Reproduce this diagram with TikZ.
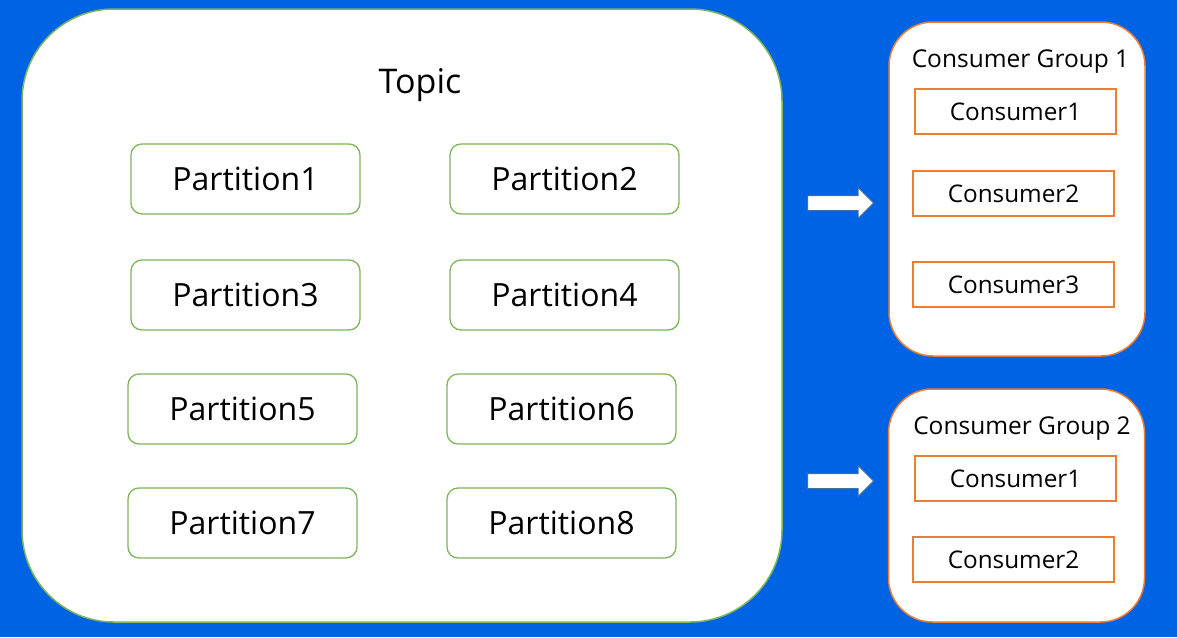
\documentclass[tikz,border=0pt]{standalone}
\usepackage{fontspec}
\setmainfont{Open Sans}
\usetikzlibrary{shapes.arrows,backgrounds}

\definecolor{bgblue}{HTML}{0063E4}
\definecolor{topicgreen}{HTML}{7DB55A}
\definecolor{grouporange}{HTML}{ED7D31}
\definecolor{arrowedge}{HTML}{41719C}

\begin{document}
\begin{tikzpicture}[x=1pt,y=-1pt,
    topicbox/.style={draw=topicgreen, line width=1.5pt, fill=white,
      rounded corners=92pt, minimum width=760pt, minimum height=613pt},
    partbox/.style={draw=topicgreen, line width=1.3pt, fill=white,
      rounded corners=11pt, minimum width=229pt, minimum height=70pt,
      font=\fontsize{32}{38}\selectfont},
    groupbox/.style={draw=grouporange, line width=1.5pt, fill=white,
      rounded corners=44pt, minimum width=256pt},
    consbox/.style={draw=grouporange, line width=1.5pt, fill=white,
      minimum width=201pt, minimum height=45pt,
      font=\fontsize{24.3}{29}\selectfont},
    flowarrow/.style={single arrow, draw=arrowedge, line width=1pt, fill=white,
      minimum height=66pt, inner xsep=0pt, inner ysep=7pt,
      single arrow head extend=8pt, single arrow tip angle=90, anchor=west}]
  % background
  \fill [bgblue] (0,0) rectangle (1177,637);
  \useasboundingbox (0,0) rectangle (1177,637);

  % topic
  \node (topic) at (402,315.5) [topicbox] {};
  \node (topiclabel) at (420,93) [anchor=base, font=\fontsize{34}{40}\selectfont] {Topic};
  \node (part1) at (245.5,179) [partbox] {Partition1};
  \node (part2) at (564.5,179) [partbox] {Partition2};
  \node (part3) at (245.5,295) [partbox] {Partition3};
  \node (part4) at (564.5,295) [partbox] {Partition4};
  \node (part5) at (242.5,409) [partbox] {Partition5};
  \node (part6) at (561.5,409) [partbox] {Partition6};
  \node (part7) at (242.5,523) [partbox] {Partition7};
  \node (part8) at (561.5,523) [partbox] {Partition8};

  % arrows
  \node (arrow1) at (807,203) [flowarrow] {};
  \node (arrow2) at (807,481) [flowarrow] {};

  % consumer groups
  \node (group1) at (1017,189) [groupbox, minimum height=334pt] {};
  \node (grouplabel1) at (1020.5,67) [anchor=base, font=\fontsize{24.5}{29}\selectfont] {Consumer Group 1};
  \node (cons11) at (1015.5,111.5) [consbox] {Consumer1};
  \node (cons12) at (1013.5,193.5) [consbox] {Consumer2};
  \node (cons13) at (1013.5,284.5) [consbox] {Consumer3};

  \node (group2) at (1016.5,505.5) [groupbox, minimum height=233pt] {};
  \node (grouplabel2) at (1022,434) [anchor=base, font=\fontsize{24.5}{29}\selectfont] {Consumer Group 2};
  \node (cons21) at (1015.5,478.5) [consbox] {Consumer1};
  \node (cons22) at (1013.5,559.5) [consbox] {Consumer2};
\end{tikzpicture}
\end{document}
